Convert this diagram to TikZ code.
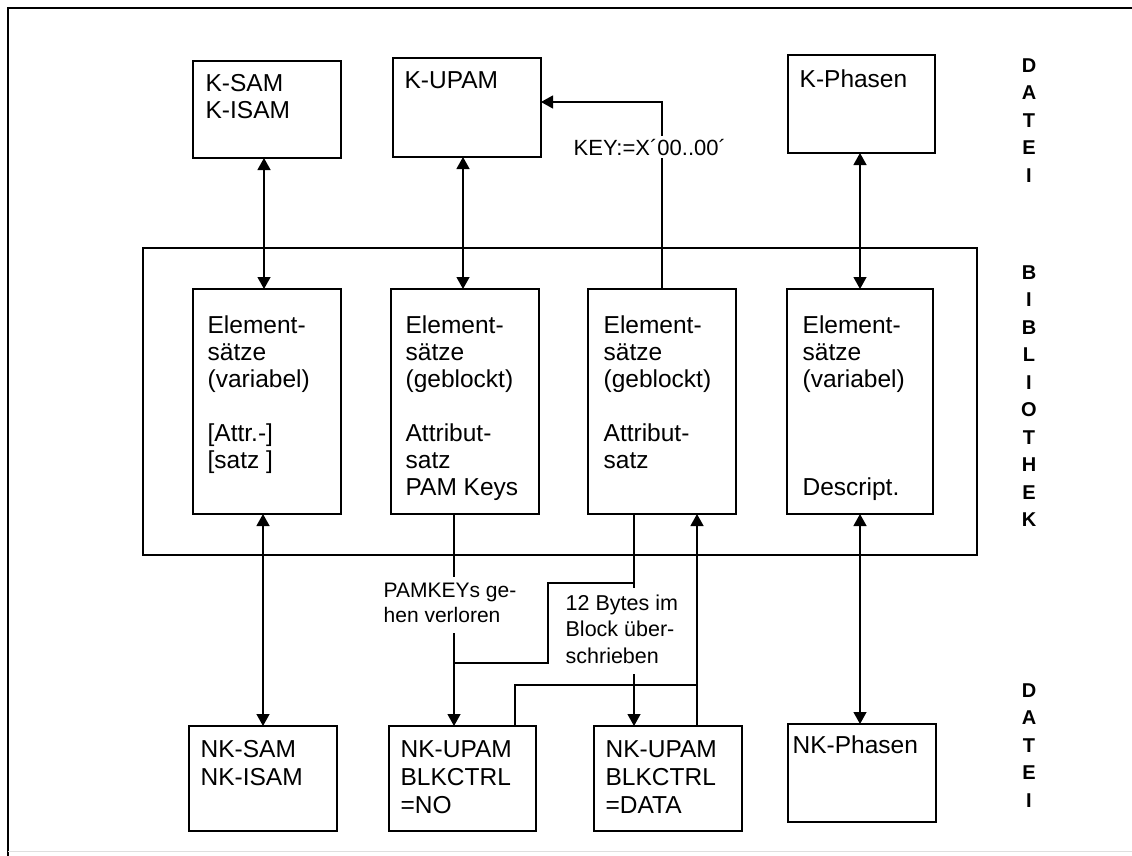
\documentclass[tikz,border=0pt]{standalone}
\usepackage{fontspec}
\setmainfont{Liberation Sans}
\usetikzlibrary{arrows.meta}
% multi-line text whose baseline is that of its first line
\newcommand\lines[2][27]{\parbox[t]{200pt}{\fontsize{24.5}{#1}\selectfont\raggedright #2}}
\begin{document}
\begin{tikzpicture}[x=1pt,y=-1pt,
  line width=1.3pt,
  box/.style={draw, line width=1.4pt, anchor=north west, inner sep=0pt, outer sep=0pt},
  txt/.style={anchor=base west, inner sep=0pt},
  note/.style={anchor=base west, fill=white, inner xsep=2pt, inner ysep=3pt},
  tip/.style={-{Triangle[length=12pt,width=13pt]}},
  tips/.style={{Triangle[length=12pt,width=13pt]}-{Triangle[length=12pt,width=13pt]}},
  side/.style={anchor=north, inner sep=0pt, align=center, font=\fontsize{20}{27.5}\selectfont\bfseries}
]
\fill[white] (0,0) rectangle (1132,856);
\useasboundingbox (0,0) rectangle (1132,856);

% page frame
\draw[line width=1.6pt] (8,856) -- (8,8) -- (1132,8);
\draw[gray!25, line width=1pt] (8,851) -- (1132,851);

% library frame
\node[box, minimum width=834, minimum height=307] (bib) at (143,248) {};

% files (top)
\node[box, minimum width=148, minimum height=97] (ksam) at (193,61) {};
\node[box, minimum width=148, minimum height=99] (kupam) at (393,58) {};
\node[box, minimum width=147, minimum height=98] (kphasen) at (788,55) {};

% element boxes in the library
\node[box, minimum width=148, minimum height=225] (el1) at (193,289) {};
\node[box, minimum width=148, minimum height=225] (el2) at (391,289) {};
\node[box, minimum width=148, minimum height=225] (el3) at (588,289) {};
\node[box, minimum width=146, minimum height=225] (el4) at (787,289) {};

% files (bottom)
\node[box, minimum width=148, minimum height=105] (nksam) at (189,726) {};
\node[box, minimum width=147, minimum height=105] (nkupa) at (389,726) {};
\node[box, minimum width=148, minimum height=105] (nkupd) at (594,726) {};
\node[box, minimum width=148, minimum height=98] (nkphasen) at (788,724) {};

% box texts
\node[txt] (ksam-t) at (205,92) {\lines[26.7]{K-SAM\\K-ISAM}};
\node[txt] (kupam-t) at (404,89) {\lines{K-UPAM}};
\node[txt] (kphasen-t) at (799,88) {\lines{K-Phasen}};

\node[txt] (el1-t) at (207,333) {\lines{Element-\\sätze\\(variabel)\\[27pt]{[}Attr.-]\\{[}satz ]}};
\node[txt] (el2-t) at (405,333) {\lines{Element-\\sätze\\(geblockt)\\[27pt]Attribut-\\satz\\PAM Keys}};
\node[txt] (el3-t) at (603,333) {\lines{Element-\\sätze\\(geblockt)\\[27pt]Attribut-\\satz}};
\node[txt] (el4-t) at (802,333) {\lines{Element-\\sätze\\(variabel)\\[81pt]Descript.}};

\node[txt] (nksam-t) at (200,757) {\lines[28]{NK-SAM\\NK-ISAM}};
\node[txt] (nkupa-t) at (400,757) {\lines[28]{NK-UPAM\\BLKCTRL\\=NO}};
\node[txt] (nkupd-t) at (605,757) {\lines[28]{NK-UPAM\\BLKCTRL\\=DATA}};
\node[txt] (nkphasen-t) at (792,753) {\lines{NK-Phasen}};

% routing positions
\coordinate (xs) at (264,0);
\coordinate (xu) at (463,0);
\coordinate (xa) at (454,0);
\coordinate (xb) at (634,0);
\coordinate (xc) at (697,0);
\coordinate (xd) at (515,0);
\coordinate (xe) at (548,0);
\coordinate (yk) at (0,102);
\coordinate (y1) at (0,583);
\coordinate (y2) at (0,663);
\coordinate (y3) at (0,685);

% connectors
\draw[tips] (ksam.south -| xs) -- (el1.north -| xs);
\draw[tips] (kupam.south -| xu) -- (el2.north -| xu);
\draw[tips] (kphasen.south -| el4.north) -- (el4.north);
\draw[tip] (el3.north) -- (el3.north |- yk) -- (kupam.east |- yk);
\draw[tips] (nksam.north |- el1.south) -- (nksam.north);
\draw[tip] (el2.south -| xa) -- (nkupa.north -| xa);
\draw (xa |- y2) -| (xe |- y1) -- (xb |- y1);
\draw[tip] (el3.south -| xb) -- (nkupd.north -| xb);
\draw[tip] (nkupa.north -| xd) |- (xc |- y3) -- (el3.south -| xc);
\draw (nkupd.north -| xc) -- (xc |- y3);
\draw[tips] (el4.south) -- (el4.south |- nkphasen.north);

% connector labels
\node[note, font=\fontsize{22}{26}\selectfont] (key) at (571,155) {KEY:=X´00..00´};
\node[note] (pamkeys) at (381,597) {\fontsize{21}{25}\selectfont\begin{tabular}[t]{@{}l@{}}PAMKEYs ge-\\hen verloren\end{tabular}};
\node[note] (bytes) at (563,610) {\fontsize{21.5}{26.5}\selectfont\begin{tabular}[t]{@{}l@{}}12 Bytes im\\Block über-\\schrieben\end{tabular}};

% side captions
\node[side] (datei1) at (1029,58) {D\\A\\T\\E\\I};
\node[side] (bibl) at (1029,265) {B\\I\\B\\L\\I\\O\\T\\H\\E\\K};
\node[side] (datei2) at (1029,683) {D\\A\\T\\E\\I};
\end{tikzpicture}
\end{document}
